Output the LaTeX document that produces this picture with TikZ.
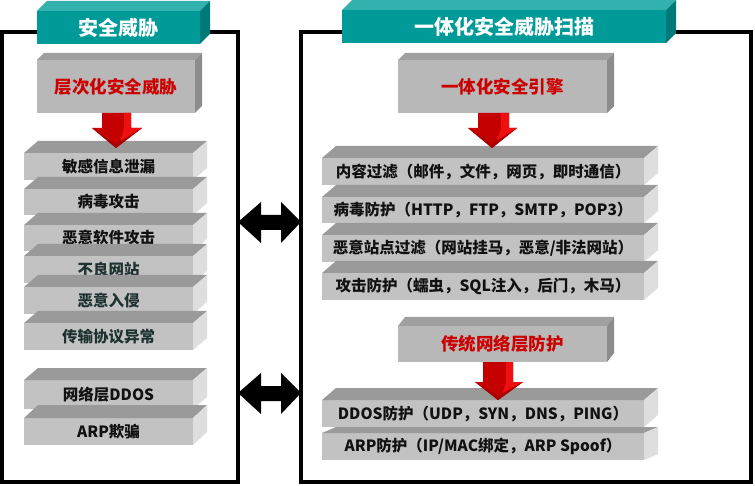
\documentclass[tikz,border=0pt]{standalone}
\usepackage{fontspec}
\setmainfont{Noto Sans CJK SC}
\begin{document}
\begin{tikzpicture}[x=1pt,y=-1pt,
  every node/.style={inner sep=0pt,outer sep=0pt,font=\bfseries},
  frame/.style={draw=black,line width=4pt},
  titlefront/.style={fill=titleF,text=white,font=\fontsize{20}{20}\selectfont\bfseries},
  titletop/.style={fill=titleT},
  titleside/.style={fill=titleS},
  headfront/.style={fill=headF,text=headR,font=\fontsize{17.5}{17.5}\selectfont\bfseries},
  headtop/.style={fill=headT},
  headside/.style={fill=headS},
  itemfront/.style={fill=itemF,text=itemK,font=\fontsize{15.5}{15.5}\selectfont\bfseries},
  itemtop/.style={fill=itemT},
  itemside/.style={fill=itemS},
  dimfront/.style={itemfront,text=itemD},
  dimtop/.style={itemtop},
  dimside/.style={itemside},
  redA/.style={fill=redD},
  redB/.style={fill=redL},
  redC/.style={fill=redS},
  twoway/.style={fill=black}
]
\definecolor{titleF}{HTML}{009A98}
\definecolor{titleT}{HTML}{33B1AF}
\definecolor{titleS}{HTML}{007A78}
\definecolor{headF}{HTML}{B8B8B8}
\definecolor{headT}{HTML}{A0A0A0}
\definecolor{headS}{HTML}{8C8C8C}
\definecolor{headR}{HTML}{CC0000}
\definecolor{itemF}{HTML}{C2C2C2}
\definecolor{itemT}{HTML}{9A9A9A}
\definecolor{itemS}{HTML}{DEDEDE}
\definecolor{itemK}{HTML}{111111}
\definecolor{itemD}{HTML}{1E3232}
\definecolor{redD}{HTML}{C40000}
\definecolor{redL}{HTML}{EE1010}
\definecolor{redS}{HTML}{A80000}
\newcommand\boxthree[9]{%
  \node[#8front,minimum width=#4pt,minimum height=#5pt,anchor=north west] (#1) at (#2,#3) {#9};
  \fill[#8top] (#1.north west) -- ++(#6,-#7) -- ++(#4,0) -- (#1.north east) -- cycle;
  \fill[#8side] (#1.north east) -- ++(#6,-#7) -- ++(0,#5) -- (#1.south east) -- cycle;
}
\newcommand\redarrow[9]{% #1 shaft left, #2 split, #3 shaft right, #4 top, #5 base, #6 head left, #7 head right, #8 tip x, #9 tip y
  \fill[redA] (#1,#4) -- (#3,#4) -- (#3,#5) -- (#7,#5) -- (#8,#9) -- (#6,#5) -- (#1,#5) -- cycle;
  \fill[redB] (#2,#4) -- (#3,#4) -- (#3,#5) -- (#7,#5) -- (#8+4,#9-4) -- (#2,#5) -- cycle;
  \fill[redC] (#6,#5) -- (#8,#9) -- (#7,#5) -- (#8,#9-4) -- cycle;
}
\useasboundingbox (0,0) rectangle (755,486);
\fill[white] (0,0) rectangle (755,486);
% frames
\node[frame,minimum width=236pt,minimum height=450pt,anchor=north west] (lf) at (2,32) {};
\node[frame,minimum width=450pt,minimum height=450pt,anchor=north west] (rf) at (301,32) {};
% titles
\boxthree{lt}{37}{11}{163}{33}{10}{10}{title}{安全威胁}
\boxthree{rt}{342}{10}{324}{33}{10}{10}{title}{一体化安全威胁扫描}
% heading boxes
\boxthree{lh}{37}{60}{158}{53}{7}{7}{head}{层次化安全威胁}
\boxthree{rh}{398}{60}{209}{53}{7}{7}{head}{一体化安全引擎}
\boxthree{rh2}{398}{326}{209}{36}{7}{9}{head}{传统网络层防护}
% left items
\boxthree{l1}{24}{153}{169}{27}{14}{12}{item}{敏感信息泄漏}
\boxthree{l2}{24}{189}{169}{26}{14}{12}{item}{病毒攻击}
\boxthree{l3}{24}{225}{169}{26}{14}{12}{item}{恶意软件攻击}
\boxthree{l4}{24}{256}{169}{27}{14}{12}{dim}{不良网站}
\boxthree{l5}{24}{287}{169}{27}{14}{12}{dim}{恶意入侵}
\boxthree{l6}{24}{323}{169}{27}{14}{12}{dim}{传输协议异常}
\boxthree{l7}{24}{380}{169}{29}{14}{12}{item}{网络层DDOS}
\boxthree{l8}{24}{418}{169}{27}{14}{13}{item}{ARP欺骗}
% right items
\boxthree{r1}{322}{158}{322}{27}{14}{12}{item}{内容过滤（邮件，文件，网页，即时通信）}
\boxthree{r2}{322}{197}{322}{26}{14}{12}{item}{病毒防护（HTTP，FTP，SMTP，POP3）}
\boxthree{r3}{322}{235}{322}{27}{14}{12}{item}{恶意站点过滤（网站挂马，恶意/非法网站）}
\boxthree{r4}{322}{273}{322}{27}{14}{12}{item}{攻击防护（蠕虫，SQL注入，后门，木马）}
\boxthree{r5}{322}{400}{322}{27}{14}{12}{item}{DDOS防护（UDP，SYN，DNS，PING）}
\boxthree{r6}{322}{433}{322}{27}{14}{6}{item}{ARP防护（IP/MAC绑定，ARP Spoof）}
% red arrows
\redarrow{102}{124}{131}{113}{128}{92}{142}{116}{148}
\redarrow{478}{501}{509}{113}{128}{468}{517}{492}{148}
\redarrow{483}{506}{513}{362}{382}{475}{523}{498}{400}
% double arrows between the frames
\fill[twoway] (lf.east |- 0,222) -- (261,202) -- (261,215) -- (281,215) -- (281,202) -- (rf.west |- 0,222) -- (281,243) -- (281,230) -- (261,230) -- (261,243) -- cycle;
\fill[twoway] (lf.east |- 0,393) -- (261,373) -- (261,386) -- (281,386) -- (281,373) -- (rf.west |- 0,393) -- (281,414) -- (281,401) -- (261,401) -- (261,414) -- cycle;
\end{tikzpicture}
\end{document}
